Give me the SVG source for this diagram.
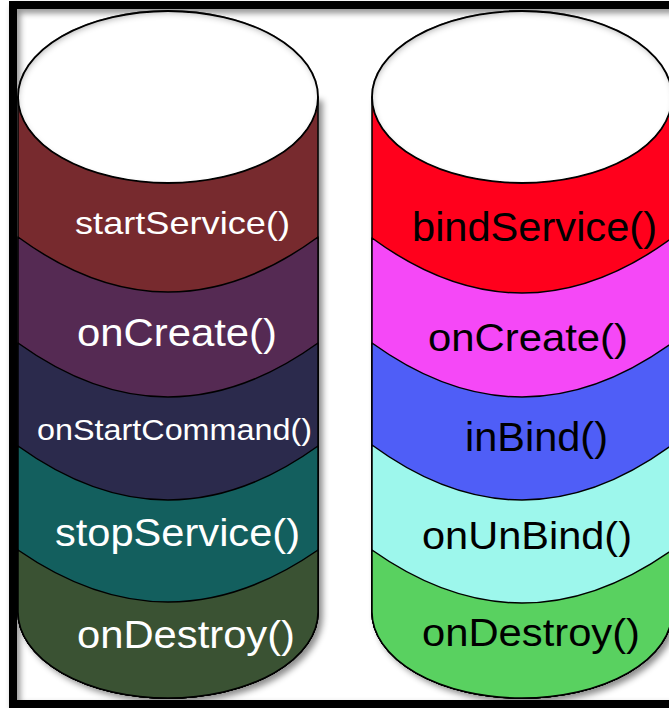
<svg xmlns="http://www.w3.org/2000/svg" width="669" height="708" viewBox="0 0 669 708">
  <defs>
    <filter id="shadow" x="-10%" y="-10%" width="125%" height="125%">
      <feDropShadow dx="4" dy="4" stdDeviation="3" flood-color="#000" flood-opacity="0.45"/>
    </filter>
    <filter id="frameShadow" x="-5%" y="-5%" width="115%" height="115%">
      <feDropShadow dx="3" dy="4" stdDeviation="3" flood-color="#000" flood-opacity="0.45"/>
    </filter>
    <filter id="inset" x="-10%" y="-10%" width="120%" height="120%">
      <feFlood flood-color="#000" flood-opacity="0.6"/>
      <feComposite in2="SourceAlpha" operator="out"/>
      <feGaussianBlur stdDeviation="3"/>
      <feOffset dx="1" dy="3"/>
      <feComposite in2="SourceAlpha" operator="in" result="sh"/>
      <feMerge><feMergeNode in="SourceGraphic"/><feMergeNode in="sh"/></feMerge>
    </filter>
  </defs>
  <style>
    .band { stroke: #000; stroke-width: 1.5; stroke-linejoin: round; }
    .top { fill: #fff; stroke: #000; stroke-width: 1.8; }
    .lbl { font-family: "Liberation Sans", Arial, Helvetica, sans-serif; }
    .w { fill: #fff; }
    .k { fill: #000; }
  </style>

  <rect x="0" y="0" width="669" height="708" fill="#fff"/>

  <g id="frame" filter="url(#frameShadow)">
    <rect x="9" y="1" width="670" height="8" fill="#000"/>
    <rect x="9" y="1" width="8" height="707" fill="#000"/>
    <rect x="9" y="700" width="670" height="8" fill="#000"/>
  </g>

  <g id="connectors"></g>

  <!-- Left cylinder: startService lifecycle -->
  <g id="cylinder-started">
    <g filter="url(#shadow)">
      <path d="M18,97 L18,612 A150,86 0 0 0 318,612 L318,97 Z" fill="#772C2F" class="band"/>
    </g>
    <g id="left-startService">
      <text class="lbl w" x="75" y="234" font-size="32" textLength="215" lengthAdjust="spacingAndGlyphs">startService()</text>
    </g>
    <g id="left-onCreate">
      <path d="M18,237 Q168,347 318,237 L318,612 A150,86 0 0 1 18,612 Z" fill="#552A53" class="band"/>
      <text class="lbl w" x="77" y="346" font-size="39" textLength="200" lengthAdjust="spacingAndGlyphs">onCreate()</text>
    </g>
    <g id="left-onStartCommand">
      <path d="M18,343 Q168,451 318,343 L318,612 A150,86 0 0 1 18,612 Z" fill="#2B2A4C" class="band"/>
      <text class="lbl w" x="37" y="440" font-size="30" textLength="275" lengthAdjust="spacingAndGlyphs">onStartCommand()</text>
    </g>
    <g id="left-stopService">
      <path d="M18,446 Q168,554 318,446 L318,612 A150,86 0 0 1 18,612 Z" fill="#135F5E" class="band"/>
      <text class="lbl w" x="55" y="546" font-size="38" textLength="245" lengthAdjust="spacingAndGlyphs">stopService()</text>
    </g>
    <g id="left-onDestroy">
      <path d="M18,550 Q168,654 318,550 L318,612 A150,86 0 0 1 18,612 Z" fill="#3A5233" class="band"/>
      <text class="lbl w" x="77" y="648" font-size="38" textLength="218" lengthAdjust="spacingAndGlyphs">onDestroy()</text>
    </g>
    <ellipse cx="168" cy="97" rx="150" ry="86" class="top" filter="url(#inset)"/>
  </g>

  <!-- Right cylinder: bindService lifecycle -->
  <g id="cylinder-bound">
    <g filter="url(#shadow)">
      <path d="M372,97 L372,612 A150,86 0 0 0 672,612 L672,97 Z" fill="#FF001A" class="band"/>
    </g>
    <g id="right-bindService">
      <text class="lbl k" x="412" y="241" font-size="40" textLength="245" lengthAdjust="spacingAndGlyphs">bindService()</text>
    </g>
    <g id="right-onCreate">
      <path d="M372,238 Q522,348 672,238 L672,612 A150,86 0 0 1 372,612 Z" fill="#F548F7" class="band"/>
      <text class="lbl k" x="428" y="351" font-size="39" textLength="200" lengthAdjust="spacingAndGlyphs">onCreate()</text>
    </g>
    <g id="right-inBind">
      <path d="M372,343 Q522,451 672,343 L672,612 A150,86 0 0 1 372,612 Z" fill="#4F5EF7" class="band"/>
      <text class="lbl k" x="465" y="451" font-size="40" textLength="143" lengthAdjust="spacingAndGlyphs">inBind()</text>
    </g>
    <g id="right-onUnBind">
      <path d="M372,445 Q522,555 672,445 L672,612 A150,86 0 0 1 372,612 Z" fill="#9DF7EC" class="band"/>
      <text class="lbl k" x="422" y="549" font-size="39" textLength="210" lengthAdjust="spacingAndGlyphs">onUnBind()</text>
    </g>
    <g id="right-onDestroy">
      <path d="M372,550 Q522,656 672,550 L672,612 A150,86 0 0 1 372,612 Z" fill="#59D160" class="band"/>
      <text class="lbl k" x="422" y="646" font-size="38" textLength="218" lengthAdjust="spacingAndGlyphs">onDestroy()</text>
    </g>
    <ellipse cx="522" cy="97" rx="150" ry="86" class="top" filter="url(#inset)"/>
  </g>
</svg>
